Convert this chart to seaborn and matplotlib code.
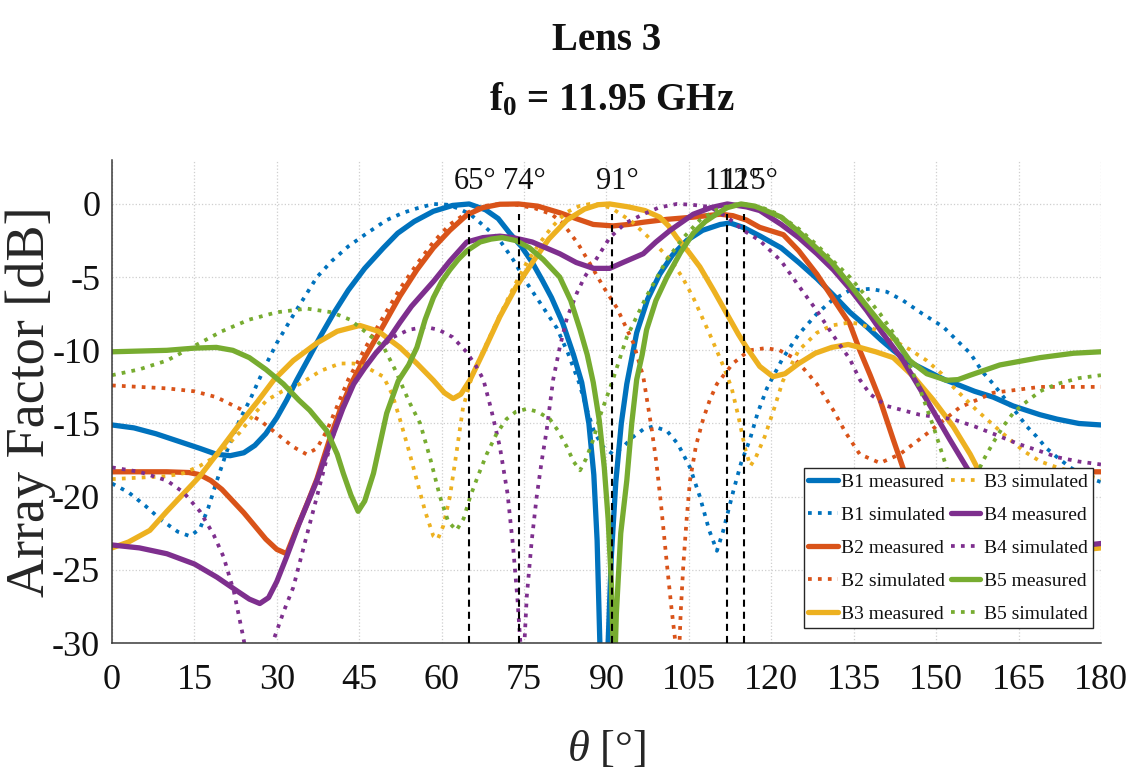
import matplotlib
matplotlib.use("Agg")
import matplotlib.pyplot as plt
import seaborn as sns

# Array factor cuts (theta in degrees, level in dB) for the five beams of Lens 3
b1_measured = [(0, -15.1), (4, -15.3), (8, -15.7), (12, -16.2), (16, -16.7), (19, -17.1), (21.5, -17.2),
               (24, -17.0), (26, -16.5), (28, -15.7), (30, -14.6), (31.8, -13.4), (33.6, -12.05), (36, -10.4),
               (38, -9.0), (40.3, -7.5), (43, -5.9), (46, -4.4), (49.4, -3.0), (52, -2.0), (55, -1.2),
               (58.5, -0.5), (62, -0.1), (65, 0), (68, -0.4), (70.3, -1.0), (72.4, -2.0), (74.5, -2.9),
               (76.5, -4.0), (78.3, -5.2), (80, -6.4), (82, -8.1), (84, -10.3), (85.5, -12.2), (86.8, -15.0),
               (87.7, -18.5), (88.3, -23.0), (88.8, -30.0), (89.5, -34.0), (90.3, -30.0), (90.9, -24.0),
               (91.7, -19.0), (92.7, -15.0), (93.7, -12.3), (95.5, -8.8), (97.5, -6.5), (99.7, -4.8),
               (102, -3.5), (104.6, -2.5), (107.5, -1.8), (110.7, -1.4), (112.5, -1.3), (114.9, -1.6),
               (118, -2.2), (121.8, -3.0), (125, -4.0), (128.3, -5.1), (131.5, -6.3), (134.3, -7.4),
               (137.4, -8.4), (140, -9.3), (142.2, -10.0), (144.6, -10.7), (148.3, -11.4), (151.5, -12.0),
               (154.3, -12.4), (157, -12.8), (160.4, -13.2), (164, -13.8), (168.9, -14.4), (172, -14.7),
               (176, -15.0), (180, -15.1)]
b1_simulated = [(0, -19.1), (3, -19.7), (6, -20.6), (9, -21.6), (12, -22.4), (14.2, -22.7), (16, -22.2),
                (17.5, -20.8), (19.1, -18.9), (21, -16.8), (23.3, -14.7), (25.1, -13.4), (26.3, -12.4),
                (28, -11.0), (30, -9.5), (33, -7.6), (37.3, -5.0), (40, -3.9), (43, -2.9), (46.4, -2.0),
                (50, -1.1), (53, -0.6), (55.5, -0.3), (58.5, 0), (61, -0.05), (63, -0.3), (65.2, -0.7),
                (68, -1.6), (70.6, -2.5), (73, -3.8), (75.5, -5.4), (78, -6.8), (81, -8.5), (83, -10.2),
                (85, -12.2), (86.4, -14.0), (87.8, -15.6), (89.4, -16.6), (91.2, -17.1), (93, -16.6),
                (94.9, -15.9), (96.7, -15.4), (98.5, -15.2), (101, -15.5), (103, -16.4), (105.2, -18.0),
                (107, -20.0), (108.7, -22.3), (110.1, -23.7), (111.2, -22.4), (113.1, -19.6), (114.5, -17.7),
                (116.1, -16.1), (117.5, -14.3), (119.2, -12.6), (122, -10.6), (125, -8.9), (128.3, -7.5),
                (131, -6.6), (134.3, -5.9), (138, -5.8), (141, -6.0), (144, -6.6), (147.5, -7.5),
                (151.3, -8.4), (154, -9.4), (156.2, -10.2), (158.5, -11.5), (160.4, -12.3), (162.5, -13.3),
                (164.7, -14.3), (166.5, -15.2), (168.3, -15.9), (170.1, -16.7), (172, -17.3), (174.4, -18.0),
                (177, -18.6), (180, -19.0)]

b2_measured = [(0, -18.3), (5, -18.3), (10, -18.3), (14, -18.35), (16, -18.5), (18, -18.9), (20, -19.5),
               (22, -20.3), (24, -21.1), (26, -22.0), (28, -22.9), (30, -23.6), (31.8, -23.9), (33.5, -22.3),
               (35.5, -20.5), (37.3, -18.8), (39.5, -16.2), (41.5, -14.1), (43.5, -12.3), (46, -10.5),
               (49.4, -8.3), (52.4, -6.3), (55.5, -4.5), (58.5, -3.0), (61.5, -1.8), (64.6, -0.75),
               (67.5, -0.25), (70.6, -0.02), (74, 0), (77.5, -0.15), (81.5, -0.6), (84.5, -1.0),
               (87.6, -1.4), (91.2, -1.5), (94, -1.4), (96.7, -1.25), (101, -1.05), (105.8, -0.9),
               (110.7, -0.7), (113, -0.8), (115.5, -1.1), (117.9, -1.6), (122.2, -2.1), (125, -3.2),
               (128.3, -4.8), (131.3, -6.5), (134.3, -8.2), (136.1, -10.0), (138, -11.7), (139.8, -13.4),
               (142.2, -16.1), (144.3, -18.4), (146, -20.5), (148, -23.0), (150, -26.0), (152, -25.5),
               (155, -22.0), (160, -19.5), (165, -18.6), (170, -18.3), (175, -18.3), (180, -18.3)]
b2_simulated = [(0, -12.4), (5, -12.5), (10, -12.6), (15, -12.8), (19, -13.2), (23.3, -14.0), (27, -14.8),
                (30, -15.7), (33, -16.6), (35.4, -17.1), (37.3, -16.7), (39.1, -15.5), (41, -13.8),
                (43, -12.0), (46, -9.9), (49.4, -7.7), (52.4, -5.8), (55.5, -4.1), (58.5, -2.6),
                (61.5, -1.4), (64.6, -0.6), (67.5, -0.15), (70.5, 0), (73.5, -0.05), (77, -0.3), (80, -0.7),
                (82, -1.3), (84.8, -2.7), (87.5, -4.4), (89.5, -5.7), (91.9, -7.1), (94.9, -9.5),
                (96.7, -11.8), (97.3, -13.2), (98.2, -15.3), (99.1, -17.7), (100, -20.8), (101, -24.6),
                (101.8, -27.5), (102.5, -29.8), (103, -33.0), (103.5, -28.0), (104, -24.6), (104.6, -21.5),
                (105.2, -18.9), (106.3, -16.5), (107.6, -14.7), (108.8, -13.4), (110.1, -12.3), (113, -10.9),
                (116, -10.0), (119, -9.85), (121.5, -10.0), (124, -10.5), (126, -11.3), (128.3, -12.3),
                (131.3, -14.1), (133.5, -15.6), (136.1, -17.1), (139.8, -17.7), (143.4, -17.1),
                (148.3, -15.7), (154.3, -13.9), (160.4, -12.9), (168.9, -12.5), (175, -12.5), (180, -12.5)]

b3_measured = [(0, -23.5), (3, -23.1), (6.9, -22.3), (10, -21.0), (13, -19.8), (16, -18.6), (19.5, -16.9),
               (23.3, -15.0), (26.5, -13.5), (29.4, -12.05), (33, -10.7), (37.3, -9.5), (41, -8.7),
               (45.1, -8.3), (48.5, -8.7), (52.4, -9.8), (55.5, -10.9), (58.5, -12.05), (60.5, -12.9),
               (62.1, -13.3), (63.5, -13.0), (65.2, -12.0), (67.5, -10.2), (70.6, -7.7), (73.5, -5.7),
               (76.7, -3.9), (79.5, -2.4), (82.8, -1.1), (86, -0.35), (88.5, -0.05), (90.6, 0), (94, -0.2),
               (97, -0.45), (99.7, -0.9), (101.3, -1.5), (102.8, -2.3), (105, -3.3), (107, -4.3),
               (109.5, -5.9), (111.9, -7.5), (114, -8.9), (115.5, -9.8), (117.9, -11.1), (120.3, -11.8),
               (122.5, -11.6), (125, -10.9), (128, -10.2), (131, -9.8), (134, -9.6), (136.1, -9.8),
               (139, -10.1), (142.2, -10.5), (145.9, -11.8), (149.5, -13.4), (153.1, -15.2), (156.2, -17.1),
               (158, -18.4), (161, -20.5), (164, -22.3), (167, -23.3), (170, -23.8), (175, -23.7),
               (180, -23.5)]
b3_simulated = [(0, -18.8), (5, -18.7), (10, -18.6), (13, -18.4), (16, -17.9), (19.1, -17.2), (21, -16.5),
                (23.3, -15.6), (26, -14.3), (28.2, -13.4), (31, -12.8), (34.2, -12.3), (38, -11.4),
                (41.5, -10.9), (44, -10.9), (46.5, -11.2), (49.4, -11.8), (51, -13.0), (52.4, -14.7),
                (54, -16.8), (55.5, -18.9), (57, -21.0), (58.5, -22.7), (59.3, -22.9), (60.3, -22.0),
                (61.5, -20.0), (62.7, -17.0), (63.9, -13.9), (65.5, -11.8), (67.6, -10.0), (70.6, -7.6),
                (73.5, -5.4), (75.5, -4.0), (77.8, -2.7), (80, -1.6), (82.6, -0.6), (85, -0.15), (87, 0),
                (89, -0.05), (91, -0.3), (94.6, -1.2), (98, -2.4), (101.6, -3.8), (103.8, -5.0),
                (105.8, -6.4), (108.8, -8.9), (111.3, -11.1), (112.8, -12.6), (114, -14.5), (115.3, -16.8),
                (116.2, -17.9), (117.2, -17.3), (118.8, -15.9), (120.5, -14.0), (122.1, -12.1), (125, -10.0),
                (128.3, -8.8), (131, -8.3), (134.3, -8.1), (136.1, -8.2), (139, -8.6), (142.2, -9.3),
                (145, -9.9), (148.3, -10.7), (151, -11.6), (153.1, -12.5), (157.4, -14.1), (162.2, -15.7),
                (166, -16.9), (169, -17.6), (172, -18.0), (176, -18.4), (180, -18.8)]

b4_measured = [(0, -23.3), (5, -23.5), (10, -23.9), (15, -24.6), (19.1, -25.5), (23, -26.5), (25, -27.0),
               (26.9, -27.3), (28.5, -26.9), (30, -25.8), (31.8, -24.1), (34, -21.9), (37.3, -18.9),
               (40, -16.0), (42, -14.0), (44, -12.3), (46, -11.2), (48, -10.2), (50.6, -9.1), (52.4, -8.1),
               (54.5, -7.0), (58.5, -5.3), (61.5, -3.9), (64.6, -2.6), (67.5, -2.3), (70.6, -2.2),
               (73, -2.3), (76.5, -2.6), (79, -3.0), (81.5, -3.4), (84.5, -4.0), (87.6, -4.4), (90.6, -4.4),
               (93, -4.0), (96.7, -3.4), (99, -2.6), (101.6, -1.8), (105.8, -0.7), (109, -0.25), (112, 0),
               (115.5, -0.2), (117.9, -0.45), (121.8, -1.4), (125, -2.3), (128.3, -3.4), (131.3, -4.5),
               (134.3, -5.8), (137.4, -7.3), (140, -8.7), (144, -10.7), (148.3, -13.4), (152.5, -16.1),
               (156.2, -18.4), (160, -21.0), (165, -23.0), (170, -23.6), (175, -23.4), (180, -23.2)]
b4_simulated = [(0, -18.0), (5, -18.3), (10, -18.9), (13, -19.7), (16, -21.0), (18.5, -22.6), (20.3, -24.1),
                (22.2, -26.5), (23.9, -29.6), (25, -32.0), (27, -35.0), (28.6, -32.0), (29.4, -29.8),
                (31.3, -27.8), (33, -26.2), (35, -23.3), (37.3, -20.0), (39.5, -16.8), (41.5, -14.3),
                (43.5, -12.5), (46.4, -10.9), (49, -9.8), (51.2, -9.1), (54, -8.6), (57, -8.4), (59.5, -8.6),
                (62, -9.1), (64.5, -10.1), (66.3, -11.1), (67.6, -12.0), (69, -14.0), (70.6, -16.6),
                (72, -19.8), (73, -23.4), (73.8, -27.0), (74.3, -29.8), (74.8, -32.0), (75.5, -26.8),
                (76.4, -23.0), (77.3, -20.0), (78.2, -17.6), (79.1, -15.5), (80.3, -12.0), (81.5, -9.8),
                (82.8, -7.8), (84.6, -6.1), (86, -5.0), (87.6, -4.1), (90.6, -2.3), (93.5, -1.3),
                (96.7, -0.7), (99.5, -0.25), (102.8, 0), (105.5, -0.05), (108.8, -0.2), (112, -0.9),
                (114.9, -1.8), (117.9, -2.5), (121.8, -3.9), (125, -5.6), (128.3, -7.3), (131.3, -9.0),
                (134.3, -10.6), (136.1, -12.0), (138, -13.0), (141, -13.8), (147, -14.4), (153, -14.7),
                (157, -15.2), (160.4, -15.7), (165, -16.4), (169, -16.9), (172, -17.3), (176, -17.6),
                (180, -17.8)]

b5_measured = [(0, -10.1), (5, -10.05), (10, -10.0), (15, -9.85), (19, -9.8), (22, -10.0), (25, -10.5),
               (28, -11.3), (31.2, -12.3), (34, -13.4), (36, -14.1), (39.1, -15.5), (41, -17.1),
               (42.1, -18.4), (43.5, -19.9), (44.8, -21.0), (46, -20.3), (47.6, -18.4), (49, -16.0),
               (50, -14.3), (52.1, -12.1), (54, -11.0), (55.5, -9.8), (57, -7.9), (58.5, -6.4), (60, -5.3),
               (61.5, -4.5), (63, -3.8), (64.6, -3.2), (67, -2.6), (69, -2.4), (71, -2.3), (73.5, -2.5),
               (76, -3.0), (78.5, -3.8), (81.5, -5.0), (83.5, -6.6), (85.2, -8.6), (86.5, -10.3),
               (87.6, -12.2), (88.7, -14.8), (89.6, -18.0), (90.3, -21.5), (90.9, -26.0), (91.4, -33.0),
               (91.8, -28.0), (92.6, -22.5), (93.7, -18.9), (94.6, -15.0), (95.5, -12.0), (96.5, -10.3),
               (97.3, -8.6), (99, -6.6), (101, -5.0), (103.5, -3.3), (105.8, -2.0), (108, -1.2),
               (110, -0.7), (112, -0.25), (114.5, 0), (117, -0.15), (119, -0.45), (121.8, -0.9),
               (125, -1.9), (127.9, -2.9), (131, -4.0), (134.3, -5.5), (137, -6.8), (140, -8.2),
               (142.2, -9.1), (145.2, -10.7), (148.3, -11.6), (151.9, -12.05), (154, -12.0), (156.2, -11.7),
               (161.6, -11.0), (168.9, -10.5), (175, -10.2), (180, -10.1)]
b5_simulated = [(0, -11.7), (5, -11.3), (10, -10.7), (13, -10.1), (16, -9.5), (20, -8.7), (25, -7.9),
                (30, -7.4), (35.5, -7.15), (40, -7.4), (43.3, -7.9), (46, -8.7), (49.4, -9.75), (51.5, -11.3),
                (54.2, -13.6), (56.1, -15.0), (58, -17.5), (59.7, -20.0), (61.2, -21.7), (62.7, -22.3),
                (64, -21.5), (65.2, -20.0), (66.7, -18.5), (68.2, -17.1), (70, -15.7), (71.8, -14.7),
                (73.5, -14.2), (75.5, -14.0), (77.5, -14.2), (79.7, -14.7), (81.2, -15.5), (82.8, -16.6),
                (84, -17.6), (85.2, -18.2), (86.3, -17.4), (87.6, -16.1), (89, -14.3), (91, -12.2),
                (93.7, -9.1), (97.3, -6.3), (101, -3.8), (104, -2.3), (107, -1.1), (110, -0.4),
                (113, -0.05), (115, 0), (118, -0.2), (121, -0.65), (125, -1.7), (128, -2.7), (131, -3.8),
                (134.3, -5.0), (137, -6.2), (139.8, -7.5), (142, -8.7), (144, -10.0), (147.1, -12.7),
                (149.5, -15.2), (151.9, -18.0), (153, -20.3), (154.2, -24.0), (155.2, -21.8), (156.5, -19.2),
                (158.6, -17.5), (160.4, -16.3), (162.2, -15.2), (164.2, -14.2), (166.5, -13.5),
                (168.9, -12.8), (172, -12.3), (176, -11.9), (180, -11.7)]

beam_names = ["B1", "B2", "B3", "B4", "B5"]
beam_colors = ["#0072BD", "#D95319", "#EDB120", "#7E2F8E", "#77AC30"]
measured = [b1_measured, b2_measured, b3_measured, b4_measured, b5_measured]
simulated = [b1_simulated, b2_simulated, b3_simulated, b4_simulated, b5_simulated]

# Main-beam directions marked with dashed lines
peak_angles = [65, 74, 91, 112, 115]

x_ticks = [0, 15, 30, 45, 60, 75, 90, 105, 120, 135, 150, 165, 180]
y_ticks = [-30, -25, -20, -15, -10, -5, 0]

sns.set_theme(style="white")
plt.rcParams.update({
    "font.family": ["Liberation Serif", "DejaVu Serif"],
    "mathtext.fontset": "custom",
    "mathtext.rm": "Liberation Serif",
    "mathtext.it": "Liberation Serif:italic",
    "mathtext.bf": "Liberation Serif:bold",
    "axes.unicode_minus": False,
    "text.color": "#111111",
})

fig = plt.figure(figsize=(11.39, 7.8), dpi=100)
ax = fig.add_axes([0.0983, 0.1756, 0.8683, 0.6192])

for name, color, meas, sim in zip(beam_names, beam_colors, measured, simulated):
    t_m, d_m = zip(*meas)
    t_s, d_s = zip(*sim)
    sns.lineplot(x=list(t_m), y=list(d_m), ax=ax, color=color, linewidth=3.8,
                 label=f"{name} measured", sort=False, estimator=None)
    sns.lineplot(x=list(t_s), y=list(d_s), ax=ax, color=color, linewidth=2.7, linestyle=":",
                 label=f"{name} simulated", sort=False, estimator=None)

ax.vlines(peak_angles, -30, -0.7, colors="black", linestyles=(0, (3.4, 2.4)), linewidth=1.5, zorder=3)
for a in peak_angles:
    ax.annotate(f"{a}°", xy=(a, 1.0), xytext=(4, 0), textcoords="offset points",
                ha="center", va="baseline", fontsize=22, color="#111111")

ax.set_xlim(0, 180)
ax.set_ylim(-30, 3)
ax.set_xticks(x_ticks)
ax.set_yticks(y_ticks)
ax.set_xticklabels([str(v) for v in x_ticks])
ax.set_yticklabels([str(v) for v in y_ticks])

for side in ("top", "right"):
    ax.spines[side].set_visible(False)
for side in ("left", "bottom"):
    ax.spines[side].set_color("#3a3a3a")
    ax.spines[side].set_linewidth(1.1)

ax.tick_params(axis="x", direction="in", length=10.5, width=1.0, pad=15, labelsize=26,
               color="#3a3a3a", labelcolor="#111111")
ax.tick_params(axis="y", direction="in", length=6, width=1.0, pad=8.5, labelsize=26,
               color="#3a3a3a", labelcolor="#111111")
ax.grid(True, linestyle=":", color="#cfcfcf", linewidth=0.9)
ax.set_axisbelow(True)

ax.set_xlabel(r"$\theta$ [°]", fontsize=32)
ax.xaxis.set_label_coords(0.5, -0.178)
ax.set_ylabel("Array Factor [dB]", fontsize=39)
ax.yaxis.set_label_coords(-0.057, 0.5)

fig.text(0.533, 0.936, "Lens 3", ha="center", va="baseline", fontsize=28, fontweight="bold")
fig.text(0.537, 0.858, r"$\mathbf{f_0}$ = 11.95 GHz", ha="center", va="baseline",
         fontsize=28, fontweight="bold")

handles, labels = ax.get_legend_handles_labels()
leg = ax.legend(handles, labels, ncol=2, loc="lower right", bbox_to_anchor=(0.992, 0.031),
                borderaxespad=0, fontsize=14, handlelength=1.5, handletextpad=0.2,
                columnspacing=0.3, borderpad=0.25, labelspacing=0.8, frameon=True,
                fancybox=False, framealpha=1, edgecolor="#262626")
leg.get_frame().set_linewidth(1.0)

fig.savefig("out.png", dpi=100)
